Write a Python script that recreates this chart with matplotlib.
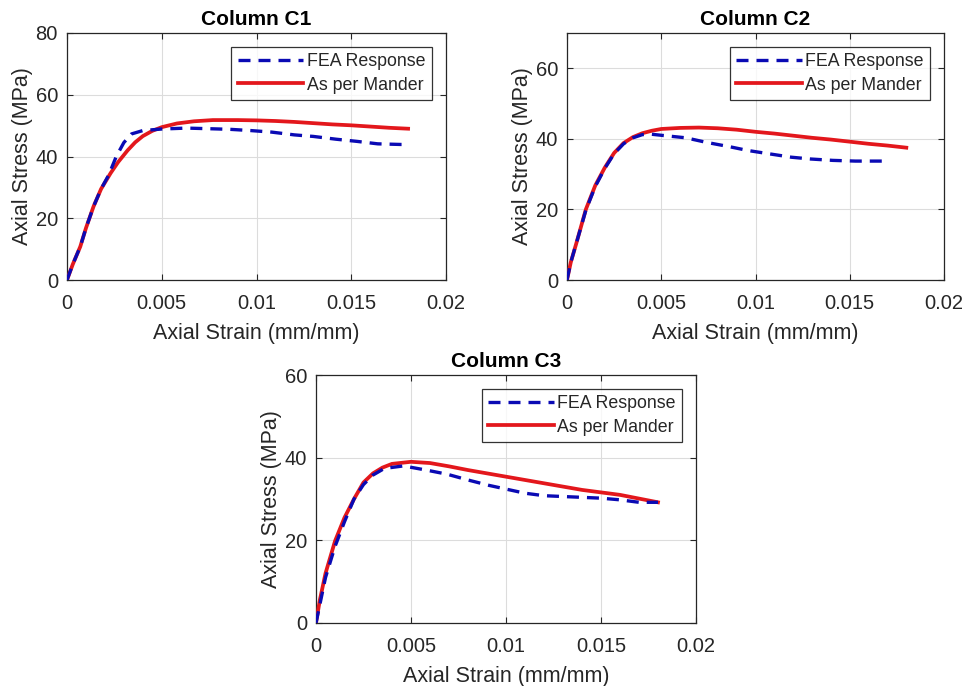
import matplotlib
matplotlib.use("Agg")
import matplotlib.pyplot as plt

plt.rcParams['font.family'] = ['Liberation Sans', 'DejaVu Sans']

# ---- Data ----
titles = ["Column C1", "Column C2", "Column C3"]
series_labels = ["FEA Response", "As per Mander"]
x_label = "Axial Strain (mm/mm)"
y_label = "Axial Stress (MPa)"

c1_mander_x = [0, 0.0003, 0.0007, 0.001, 0.0014, 0.0018, 0.0023, 0.0027, 0.0032, 0.0036, 0.004, 0.0045,
               0.005, 0.0058, 0.0067, 0.0077, 0.009, 0.01, 0.011, 0.012, 0.013, 0.014, 0.015, 0.016, 0.017, 0.018]
c1_mander_y = [0, 5, 10.8, 16.8, 23.8, 29.5, 34.6, 38.2, 42, 44.6, 46.6, 48.3,
               49.5, 50.7, 51.4, 51.8, 51.8, 51.7, 51.5, 51.2, 50.8, 50.4, 50.1, 49.7, 49.3, 49.0]
c1_fea_x = [0, 0.0003, 0.0007, 0.001, 0.0014, 0.0018, 0.0022, 0.0026, 0.003, 0.0034, 0.004, 0.005,
            0.0063, 0.0075, 0.0086, 0.0097, 0.0108, 0.012, 0.013, 0.0142, 0.0153, 0.0164, 0.0176, 0.018]
c1_fea_y = [0, 5, 10.8, 16.8, 23.8, 29.5, 34, 40, 44.5, 47.3, 48.4, 48.9,
            49.2, 49.0, 48.8, 48.4, 47.9, 47.0, 46.5, 45.6, 44.9, 44.1, 43.9, 43.9]

c2_mander_x = [0, 0.0002, 0.0005, 0.001, 0.0015, 0.002, 0.0025, 0.003, 0.0035, 0.004, 0.0045, 0.005,
               0.006, 0.007, 0.008, 0.009, 0.01, 0.011, 0.012, 0.013, 0.014, 0.015, 0.016, 0.017, 0.018]
c2_mander_y = [0, 5, 10.5, 20, 26.8, 31.8, 36, 38.8, 40.5, 41.6, 42.3, 42.8,
               43.1, 43.2, 43.0, 42.6, 42.0, 41.5, 40.9, 40.3, 39.8, 39.2, 38.6, 38.1, 37.5]
c2_fea_x = [0, 0.0002, 0.0005, 0.001, 0.0015, 0.002, 0.0025, 0.003, 0.0035, 0.004, 0.0045, 0.0052,
            0.0063, 0.0074, 0.0086, 0.0096, 0.0108, 0.0119, 0.0129, 0.0141, 0.0153, 0.0167]
c2_fea_y = [0, 5, 10.5, 19.8, 26.5, 31.6, 35.8, 38.6, 40.3, 41.2, 41.3, 40.9,
            40.3, 39.0, 37.8, 36.7, 35.7, 34.8, 34.3, 33.9, 33.7, 33.7]

c3_mander_x = [0, 0.0002, 0.0005, 0.001, 0.0015, 0.002, 0.0025, 0.003, 0.0035, 0.004, 0.005, 0.006,
               0.007, 0.008, 0.009, 0.01, 0.011, 0.012, 0.013, 0.014, 0.015, 0.016, 0.017, 0.018]
c3_mander_y = [0, 5.5, 12, 19.8, 25.5, 30, 34, 36.2, 37.6, 38.5, 39.0, 38.7,
               37.9, 37.0, 36.2, 35.4, 34.6, 33.8, 33.0, 32.2, 31.6, 31.0, 30.1, 29.2]
c3_fea_x = [0, 0.0005, 0.001, 0.0015, 0.002, 0.0025, 0.003, 0.0036, 0.0046, 0.0058, 0.0069, 0.008,
            0.0091, 0.0101, 0.011, 0.012, 0.013, 0.014, 0.015, 0.016, 0.017, 0.018]
c3_fea_y = [0, 11, 18.5, 24.5, 30, 33.5, 35.8, 37.4, 38, 37, 36, 34.6,
            33.3, 32.3, 31.4, 30.8, 30.6, 30.4, 30.2, 29.8, 29.2, 29.2]

x_ticks = [0, 0.005, 0.01, 0.015, 0.02]
x_tick_labels = ["0", "0.005", "0.01", "0.015", "0.02"]
y_limits = [80, 70, 60]
y_ticks = [[0, 20, 40, 60, 80], [0, 20, 40, 60], [0, 20, 40, 60]]

# ---- Layout ----
W, H = 967, 686
fig = plt.figure(figsize=(W / 100, H / 100), dpi=100)
boxes = [(67, 33, 446, 280), (567, 33, 944, 280), (316, 375, 696, 623)]
data = [(c1_fea_x, c1_fea_y, c1_mander_x, c1_mander_y),
        (c2_fea_x, c2_fea_y, c2_mander_x, c2_mander_y),
        (c3_fea_x, c3_fea_y, c3_mander_x, c3_mander_y)]

fea_color = '#0A0AB4'
mander_color = '#E3171C'
axis_color = '#262626'

for i, (l, t, r, b) in enumerate(boxes):
    ax = fig.add_axes([l / W, 1 - b / H, (r - l) / W, (b - t) / H])
    fx, fy, mx, my = data[i]
    ax.plot(mx, my, color=mander_color, lw=2.7, solid_joinstyle='round', zorder=3,
            label=series_labels[1])
    ax.plot(fx, fy, color=fea_color, lw=2.4, ls=(0, (3.6, 2.4)), zorder=4,
            label=series_labels[0])
    ax.set_xlim(0, 0.02)
    ax.set_ylim(0, y_limits[i])
    ax.set_xticks(x_ticks)
    ax.set_xticklabels(x_tick_labels)
    ax.set_yticks(y_ticks[i])
    ax.grid(True, color='#dcdcdc', lw=0.8)
    ax.set_axisbelow(True)
    ax.tick_params(direction='in', length=4, width=0.8, colors=axis_color,
                   labelsize=14.5, top=True, right=True)
    ax.tick_params(axis='x', pad=10)
    ax.tick_params(axis='y', pad=6.5)
    for sp in ax.spines.values():
        sp.set_color(axis_color)
        sp.set_linewidth(0.9)
    ax.set_xlabel(x_label, fontsize=15.5, color=axis_color, labelpad=7.5)
    ax.set_ylabel(y_label, fontsize=15.5, color=axis_color, labelpad=2)
    ax.set_title(titles[i], fontsize=15, fontweight='bold', color='black', pad=6)
    handles, labels = ax.get_legend_handles_labels()
    leg = ax.legend(handles[::-1], labels[::-1], loc='upper right', fontsize=12.8,
                    frameon=True, fancybox=False, edgecolor='black', handlelength=3.7,
                    handletextpad=0.2, borderaxespad=0.8, labelspacing=0.35,
                    borderpad=0.35)
    leg.get_frame().set_linewidth(0.9)
    for txt in leg.get_texts():
        txt.set_color(axis_color)

fig.savefig("out.png", dpi=100, facecolor='white')
